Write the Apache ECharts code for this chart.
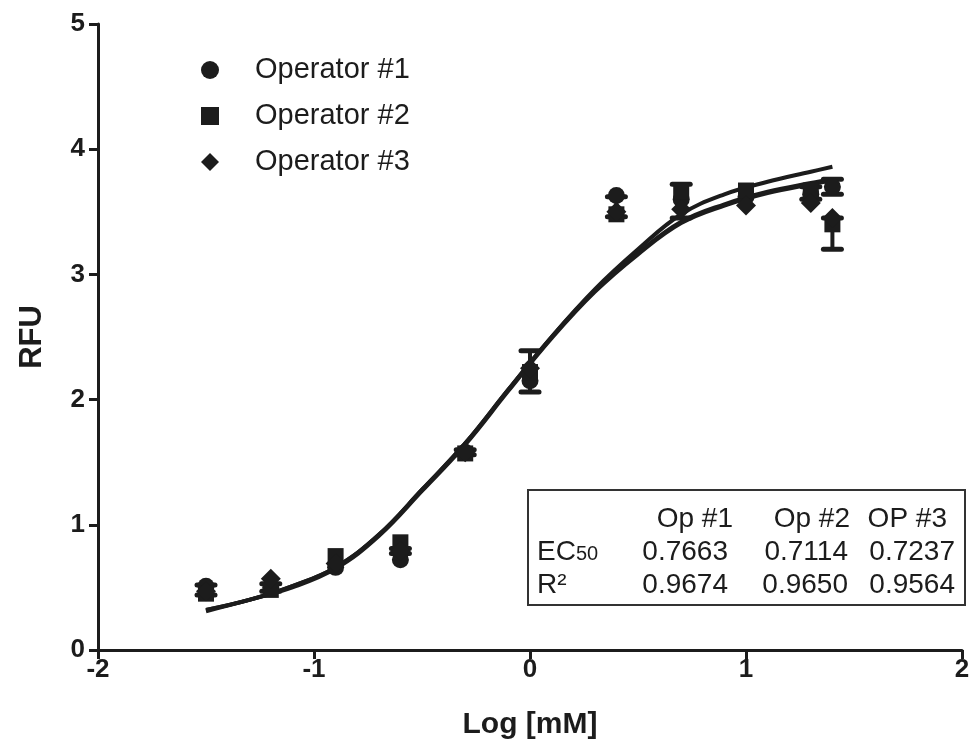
<!DOCTYPE html>
<html>
<head>
<meta charset="utf-8">
<script src="https://cdn.jsdelivr.net/npm/echarts@6/dist/echarts.min.js"></script>
<style>html,body{margin:0;padding:0;background:#fff}#c{width:979px;height:745px}</style>
</head>
<body>
<div id="c"></div>
<script>
// ---- data ----
var xTicks = [-2, -1, 0, 1, 2];
var yTicks = [0, 1, 2, 3, 4, 5];
var doseX = [-1.5, -1.2, -0.9, -0.6, -0.3, 0, 0.4, 0.7, 1.0, 1.3, 1.4];
var op1 = [0.51, 0.50, 0.66, 0.72, 1.58, 2.15, 3.63, 3.60, 3.62, 3.64, 3.70];
var op2 = [0.45, 0.48, 0.75, 0.86, 1.57, 2.22, 3.48, 3.66, 3.67, 3.67, 3.40];
var op3 = [0.47, 0.57, 0.69, 0.79, 1.58, 2.25, 3.50, 3.52, 3.55, 3.57, 3.45];
var errX  = [-1.5, -1.2, -0.6, -0.3, 0, 0.4, 0.7, 1.3, 1.4, 1.4];
var errLo = [0.44, 0.47, 0.77, 1.56, 2.06, 3.46, 3.45, 3.60, 3.20, 3.64];
var errHi = [0.52, 0.53, 0.81, 1.60, 2.39, 3.62, 3.72, 3.70, 3.45, 3.76];
var curveX = [-1.5, -1.3, -1.1, -0.9, -0.7, -0.5, -0.3, -0.1, 0.1, 0.3, 0.5, 0.7, 0.9, 1.1, 1.3, 1.4];
var fit1 = [0.32, 0.40, 0.51, 0.66, 0.92, 1.28, 1.65, 2.08, 2.50, 2.88, 3.20, 3.48, 3.64, 3.74, 3.82, 3.86];
var fit2 = [0.32, 0.40, 0.51, 0.66, 0.92, 1.28, 1.65, 2.08, 2.50, 2.87, 3.17, 3.42, 3.56, 3.66, 3.73, 3.76];
var fit3 = [0.31, 0.40, 0.50, 0.65, 0.91, 1.27, 1.64, 2.07, 2.49, 2.86, 3.16, 3.41, 3.55, 3.65, 3.72, 3.75];
var seriesNames = ['Operator #1', 'Operator #2', 'Operator #3'];
var tableHeaders = ['Op #1', 'Op #2', 'OP #3'];
var ec50Values = ['0.7663', '0.7114', '0.7237'];
var r2Values = ['0.9674', '0.9650', '0.9564'];

var INK = '#1c1c1c';
var FONT = '"Liberation Sans", Arial, sans-serif';

function pairs(xs, ys) { return xs.map(function (x, i) { return [x, ys[i]]; }); }

var chart = echarts.init(document.getElementById('c'), null, {renderer: 'canvas'});

var tableLeft = 528, tableTop = 490, tableW = 437, tableH = 115;
var headRight = [733, 850, 947];
var valRight = [728, 848, 955];
var rowY = [519, 552, 585];
var TF = '28px ' + FONT;
var graphics = [
  {type: 'rect', shape: {x: tableLeft, y: tableTop, width: tableW, height: tableH},
   style: {fill: '#fff', stroke: '#333', lineWidth: 2}, z: 10}
];
tableHeaders.forEach(function (t, i) {
  graphics.push({type: 'text', x: headRight[i], y: rowY[0], z: 11,
    style: {text: t, font: TF, fill: INK, textAlign: 'right', textVerticalAlign: 'middle'}});
});
graphics.push({type: 'text', x: 537, y: rowY[1] + 14, z: 11,
  style: {text: 'EC', font: TF, fill: INK, textAlign: 'left', textVerticalAlign: 'bottom'}});
graphics.push({type: 'text', x: 576, y: rowY[1] + 12, z: 11,
  style: {text: '50', font: '20px ' + FONT, fill: INK, textAlign: 'left', textVerticalAlign: 'bottom'}});
graphics.push({type: 'text', x: 537, y: rowY[2], z: 11,
  style: {text: 'R\u00b2', font: TF, fill: INK, textAlign: 'left', textVerticalAlign: 'middle'}});
ec50Values.forEach(function (t, i) {
  graphics.push({type: 'text', x: valRight[i], y: rowY[1], z: 11,
    style: {text: t, font: TF, fill: INK, textAlign: 'right', textVerticalAlign: 'middle'}});
});
r2Values.forEach(function (t, i) {
  graphics.push({type: 'text', x: valRight[i], y: rowY[2], z: 11,
    style: {text: t, font: TF, fill: INK, textAlign: 'right', textVerticalAlign: 'middle'}});
});

var errData = errX.map(function (x, i) { return [x, errLo[i], errHi[i]]; });

var option = {
  animation: false,
  backgroundColor: '#fff',
  grid: {left: 98, right: 17, top: 24, bottom: 95, containLabel: false},
  legend: {
    data: seriesNames.map(function (n) { return {name: n}; }),
    orient: 'vertical', left: 196, top: 50, itemGap: 16,
    itemWidth: 18, itemHeight: 18,
    textStyle: {fontFamily: FONT, fontSize: 29, color: INK, padding: [0, 0, 0, 31], lineHeight: 30},
    selectedMode: false
  },
  xAxis: {
    type: 'value', min: -2, max: 2, interval: 1,
    name: 'Log [mM]', nameLocation: 'middle', nameGap: 60,
    nameTextStyle: {fontFamily: FONT, fontWeight: 'bold', fontSize: 30, color: INK},
    axisLine: {show: true, onZero: false, lineStyle: {color: INK, width: 3}},
    axisTick: {show: true, length: 9, lineStyle: {color: INK, width: 3}},
    axisLabel: {fontFamily: FONT, fontWeight: 'bold', fontSize: 26, color: INK, margin: 7,
      formatter: function (v) { return xTicks.indexOf(v) >= 0 ? String(v) : ''; }},
    splitLine: {show: false}
  },
  yAxis: {
    type: 'value', min: 0, max: 5, interval: 1,
    name: 'RFU', nameLocation: 'middle', nameGap: 50,
    nameTextStyle: {fontFamily: FONT, fontWeight: 'bold', fontSize: 31, color: INK},
    axisLine: {show: true, onZero: false, lineStyle: {color: INK, width: 3}},
    axisTick: {show: true, length: 9, lineStyle: {color: INK, width: 3}},
    axisLabel: {fontFamily: FONT, fontWeight: 'bold', fontSize: 26, color: INK, margin: 13,
      formatter: function (v) { return yTicks.indexOf(v) >= 0 ? String(v) : ''; }},
    splitLine: {show: false}
  },
  graphic: graphics,
  series: [
    {type: 'line', data: pairs(curveX, fit1), smooth: 0.4, showSymbol: false, z: 2,
     lineStyle: {color: INK, width: 4}, silent: true},
    {type: 'line', data: pairs(curveX, fit2), smooth: 0.4, showSymbol: false, z: 2,
     lineStyle: {color: INK, width: 4}, silent: true},
    {type: 'line', data: pairs(curveX, fit3), smooth: 0.4, showSymbol: false, z: 2,
     lineStyle: {color: INK, width: 4}, silent: true},
    {type: 'custom', data: errData, z: 3, silent: true,
     renderItem: function (params, api) {
       var x = api.value(0);
       var p1 = api.coord([x, api.value(1)]);
       var p2 = api.coord([x, api.value(2)]);
       var w = 9;
       var st = {stroke: INK, lineWidth: 5, lineCap: 'round'};
       return {type: 'group', children: [
         {type: 'line', shape: {x1: p1[0], y1: p1[1], x2: p2[0], y2: p2[1]}, style: {stroke: INK, lineWidth: 4}},
         {type: 'line', shape: {x1: p1[0] - w, y1: p1[1], x2: p1[0] + w, y2: p1[1]}, style: st},
         {type: 'line', shape: {x1: p2[0] - w, y1: p2[1], x2: p2[0] + w, y2: p2[1]}, style: st}
       ]};
     }},
    {name: seriesNames[0], type: 'scatter', data: pairs(doseX, op1), symbol: 'circle', symbolSize: 17, z: 5,
     itemStyle: {color: INK, opacity: 1}},
    {name: seriesNames[1], type: 'scatter', data: pairs(doseX, op2), symbol: 'rect', symbolSize: 16, z: 5,
     itemStyle: {color: INK, opacity: 1}},
    {name: seriesNames[2], type: 'scatter', data: pairs(doseX, op3), symbol: 'diamond', symbolSize: 20, z: 5,
     itemStyle: {color: INK, opacity: 1}}
  ]
};
chart.setOption(option);
</script>
</body>
</html>
